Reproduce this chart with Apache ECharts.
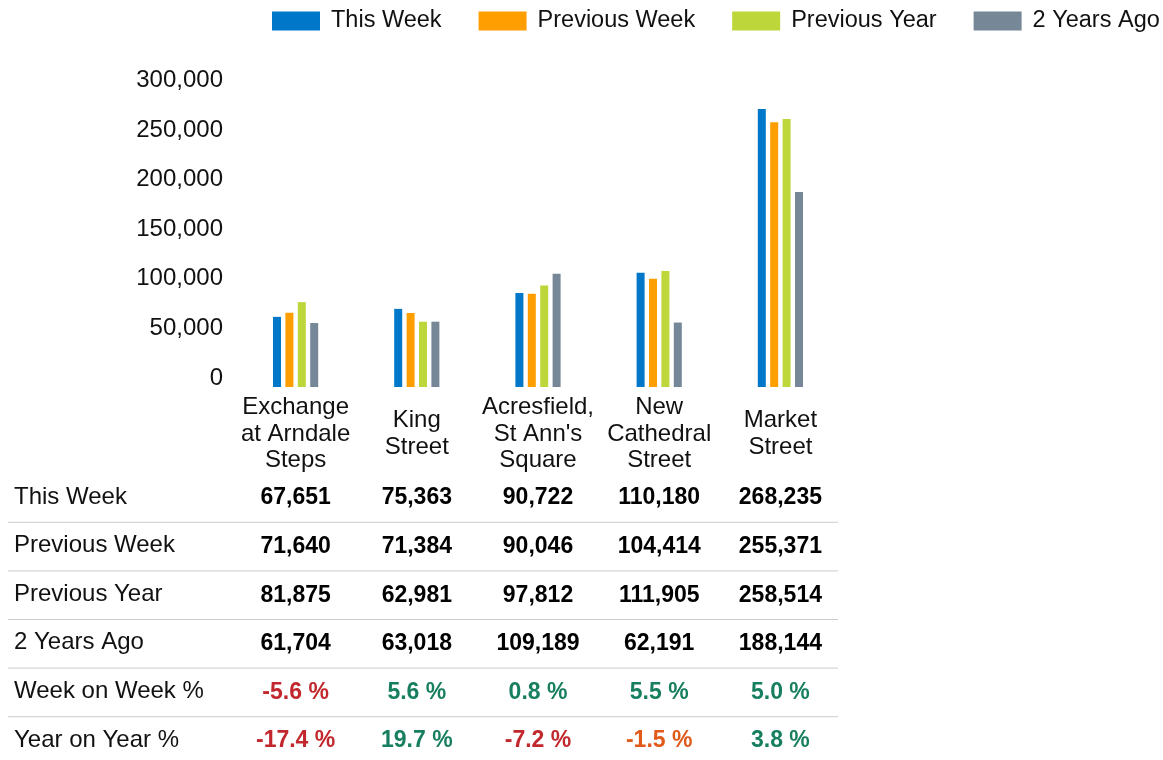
<!DOCTYPE html>
<html>
<head>
    <meta charset="utf-8"/>
    <title>Footfall</title>
    <script src="https://cdn.jsdelivr.net/npm/echarts@6/dist/echarts.min.js"></script>
    <style>
        html, body { margin: 0; padding: 0; background: #fff; }
    </style>
</head>
<body>
<div id="main" style="width: 1163px; height: 760px;"></div>
<script type="text/javascript">

    var categories = ['Exchange\nat Arndale\nSteps', 'King\nStreet', 'Acresfield,\nSt Ann\'s\nSquare', 'New\nCathedral\nStreet', 'Market\nStreet'];
    var seriesNames = ['This Week', 'Previous Week', 'Previous Year', '2 Years Ago'];
    var thisWeek = [67651, 75363, 90722, 110180, 268235];
    var previousWeek = [71640, 71384, 90046, 104414, 255371];
    var previousYear = [81875, 62981, 97812, 111905, 258514];
    var twoYearsAgo = [61704, 63018, 109189, 62191, 188144];
    var weekOnWeek = [-5.6, 5.6, 0.8, 5.5, 5.0];
    var yearOnYear = [-17.4, 19.7, -7.2, -1.5, 3.8];
    var yTicks = [0, 50000, 100000, 150000, 200000, 250000, 300000];

    var colors = ['#0077c8', '#ff9e00', '#bdd63a', '#768797'];
    var font = 'Liberation Sans';
    var fs = 24;       // regular text
    var fsBold = 23;   // table values

    function fmtNum(v) {
        return v.toLocaleString('en-US');
    }
    function fmtPct(v) {
        return v.toFixed(1) + ' %';
    }
    function pctColor(v) {
        if (v <= -5) return '#c1272d';
        if (v < 0) return '#e05a1a';
        return '#177f5f';
    }

    // table rows under the chart
    var tableRows = [
        {name: 'This Week', values: thisWeek, fmt: fmtNum},
        {name: 'Previous Week', values: previousWeek, fmt: fmtNum},
        {name: 'Previous Year', values: previousYear, fmt: fmtNum},
        {name: '2 Years Ago', values: twoYearsAgo, fmt: fmtNum},
        {name: 'Week on Week %', values: weekOnWeek, fmt: fmtPct, pct: true},
        {name: 'Year on Year %', values: yearOnYear, fmt: fmtPct, pct: true}
    ];

    var baseY = 387;        // bar baseline
    var firstRowY = 498;
    var rowStep = 48.6;

    var xAxes = [{
        type: 'category',
        gridIndex: 0,
        data: categories,
        axisLine: {show: false},
        axisTick: {show: false},
        axisLabel: {
            interval: 0,
            margin: 47,
            verticalAlign: 'middle',
            align: 'center',
            fontFamily: font,
            fontSize: fs,
            lineHeight: 26.5,
            color: '#111'
        }
    }];

    var graphics = [];
    tableRows.forEach(function (row, i) {
        var y = firstRowY + i * rowStep;
        xAxes.push({
            type: 'category',
            gridIndex: 0,
            position: 'bottom',
            offset: y - baseY,
            data: categories,
            axisLine: {show: false},
            axisTick: {show: false},
            axisLabel: {
                interval: 0,
                margin: 0,
                verticalAlign: 'middle',
                align: 'center',
                fontFamily: font,
                fontSize: fsBold,
                fontWeight: 'bold',
                color: row.pct ? function (val, idx) { return pctColor(row.values[idx]); } : '#000',
                formatter: function (val, idx) { return row.fmt(row.values[idx]); }
            }
        });
        graphics.push({
            type: 'text',
            left: 14,
            top: y - 13,
            style: {text: row.name, fontFamily: font, fontSize: fs, fill: '#111'}
        });
        if (i < tableRows.length - 1) {
            graphics.push({
                type: 'line',
                shape: {x1: 8, y1: y + rowStep / 2, x2: 838, y2: y + rowStep / 2},
                style: {stroke: '#cccccc', lineWidth: 1}
            });
        }
    });

    // hidden x axis for the label-only grid
    xAxes.push({type: 'category', gridIndex: 1, data: categories, show: false});

    var barData = [thisWeek, previousWeek, previousYear, twoYearsAgo];
    var series = barData.map(function (d, i) {
        return {
            name: seriesNames[i],
            type: 'bar',
            xAxisIndex: 0,
            yAxisIndex: 0,
            data: d,
            barWidth: 8,
            barGap: '55%',
            itemStyle: {color: colors[i]}
        };
    });

    var myChart = echarts.init(document.getElementById('main'));
    myChart.setOption({
        backgroundColor: '#fff',
        animation: false,
        legend: {
            left: 272,
            top: 9,
            padding: 0,
            itemWidth: 48,
            itemHeight: 19,
            itemGap: 37,
            icon: 'rect',
            data: seriesNames,
            textStyle: {fontFamily: font, fontSize: 23.5, color: '#111', padding: [0, 0, 0, 6]}
        },
        grid: [
            {left: 235, right: 322, top: 76, bottom: 760 - baseY},
            {left: 235, right: 322, top: 80.5, bottom: 382}
        ],
        xAxis: xAxes,
        yAxis: [
            {
                type: 'value', gridIndex: 0, min: 0, max: yTicks[yTicks.length - 1],
                show: false, splitLine: {show: false}
            },
            {
                type: 'value', gridIndex: 1, min: yTicks[0], max: yTicks[yTicks.length - 1], interval: yTicks[1] - yTicks[0],
                axisLine: {show: false},
                axisTick: {show: false},
                splitLine: {show: false},
                axisLabel: {
                    margin: 12,
                    fontFamily: font,
                    fontSize: fs,
                    color: '#111',
                    formatter: function (v) { return fmtNum(v); }
                }
            }
        ],
        graphic: graphics,
        series: series
    });
</script>
</body>
</html>
